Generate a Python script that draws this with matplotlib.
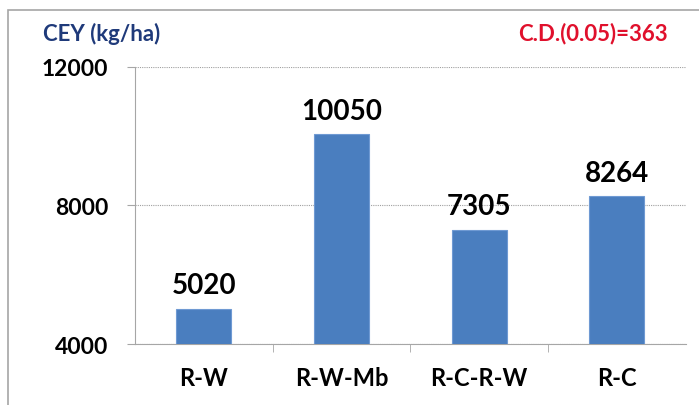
import matplotlib.pyplot as plt
from matplotlib.patches import Rectangle

# -------------------------------
# Data
# -------------------------------
systems = ["R-W", "R-W-Mb", "R-C-R-W", "R-C"]
cey = [5020, 10050, 7305, 8264]
y_ticks = [4000, 8000, 12000]

plt.rcParams["font.family"] = ["Lato", "DejaVu Sans"]

fig = plt.figure(figsize=(6.99, 4.06), dpi=100)
ax = fig.add_axes([0.193, 0.150, 0.788, 0.683])

# outer chart frame
fig.patches.append(Rectangle((8 / 699, -0.05), 1.2, 1 - 11 / 406 + 0.05,
                             transform=fig.transFigure, fill=False,
                             edgecolor="#a6a6a6", linewidth=1.2))

x = range(len(systems))
ax.bar(x, cey, width=0.4, color="#4a7ebf", edgecolor="#6f9ad3",
       linewidth=0.8, zorder=3)

for xi, v in zip(x, cey):
    ax.text(xi, v + 300, str(v), ha="center", va="bottom",
            fontsize=20, fontweight="bold", color="black")

ax.set_ylim(4000, 12000)
ax.set_xlim(-0.5, len(systems) - 0.5)
ax.set_yticks(y_ticks)
ax.set_yticklabels([str(t) for t in y_ticks], fontsize=16.5, fontweight="bold")
ax.set_xticks(list(x))
ax.set_xticklabels(systems, fontsize=17, fontweight="bold")
ax.set_xticks([0.5, 1.5, 2.5], minor=True)
ax.tick_params(axis="x", which="major", length=0, pad=16)
ax.tick_params(axis="x", which="minor", length=6, color="#a6a6a6")
ax.tick_params(axis="y", length=6, color="#a6a6a6", pad=13)

ax.yaxis.grid(True, linestyle=(0, (1, 1)), color="#a0a0a0", linewidth=0.8)
ax.set_axisbelow(True)
for s in ["top", "right"]:
    ax.spines[s].set_visible(False)
ax.spines["left"].set_color("#a6a6a6")
ax.spines["bottom"].set_color("#a6a6a6")

fig.text(43 / 699, 1 - 34 / 406, "CEY (kg/ha)", fontsize=16,
         fontweight="bold", color="#1f3a7a", va="center", ha="left")
fig.text(668 / 699, 1 - 34 / 406, "C.D.(0.05)=363", fontsize=16,
         fontweight="bold", color="#e0102c", va="center", ha="right")

fig.savefig("out.png", dpi=100)
